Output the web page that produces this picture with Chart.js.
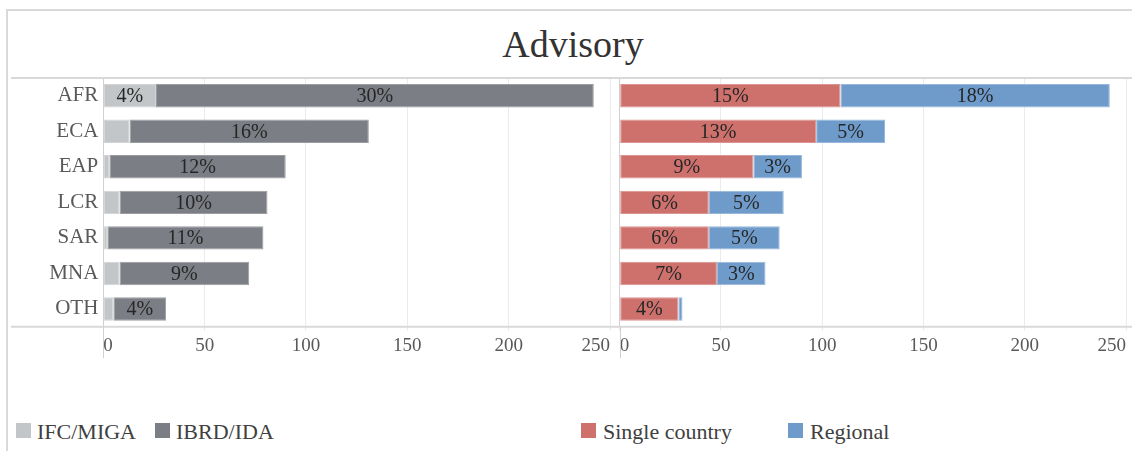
<!DOCTYPE html>
<html>
<head>
<meta charset="utf-8">
<script src="https://cdn.jsdelivr.net/npm/chart.js@4/dist/chart.umd.min.js"></script>
<style>
html,body{margin:0;padding:0;background:#fff;}
#wrap{position:relative;width:1132px;height:451px;overflow:hidden;font-family:"Liberation Serif","Times New Roman",serif;}
.frameL{position:absolute;left:6px;top:9px;width:2px;height:442px;background:#d9d9d9;}
.frameT{position:absolute;left:6px;top:9px;width:1126px;height:2px;background:#d9d9d9;}
#title{position:absolute;left:0;width:1146px;top:25px;text-align:center;font-size:38px;line-height:38px;color:#333;}
canvas{position:absolute;top:0;}
#c1{left:0;}
#c2{left:614px;}
.bx{position:absolute;top:423px;width:15px;height:15px;}
.lt{position:absolute;top:421px;font-size:22px;line-height:22px;color:#404040;white-space:nowrap;}
</style>
</head>
<body>
<div id="wrap">
  <div class="frameT"></div>
  <div class="frameL"></div>
  <div id="title">Advisory</div>
  <canvas id="c1" width="614" height="400" style="width:614px;height:400px"></canvas>
  <canvas id="c2" width="518" height="400" style="width:518px;height:400px"></canvas>
  <div id="legend"></div>
</div>
<script>
// ---- data ----
const categories = ['AFR', 'ECA', 'EAP', 'LCR', 'SAR', 'MNA', 'OTH'];
const ifcMiga = [26, 13, 3, 8, 2, 8, 5];
const ibrdIda = [216, 118, 87, 73, 77, 64, 26];
const singleCountry = [109, 97, 66, 44, 44, 48, 29];
const regional = [133, 34, 24, 37, 35, 24, 2];
const ifcMigaLabels = ['4%', '', '', '', '', '', ''];
const ibrdIdaLabels = ['30%', '16%', '12%', '10%', '11%', '9%', '4%'];
const singleCountryLabels = ['15%', '13%', '9%', '6%', '6%', '7%', '4%'];
const regionalLabels = ['18%', '5%', '3%', '5%', '5%', '3%', ''];
const xTicks = [0, 50, 100, 150, 200, 250];

const FONT = '"Liberation Serif", "Times New Roman", serif';
const colors = {
  ifc: '#C3C6C8', ibrd: '#7C7E85', single: '#CE716D', regional: '#6F9BCB'
};
const borders = {
  ifc: '#D2D4D5', ibrd: '#9A9CA1', single: '#DB948F', regional: '#97B6DB'
};

const labelPlugin = {
  id: 'segLabels',
  afterDatasetsDraw(chart) {
    const ctx = chart.ctx;
    ctx.save();
    ctx.font = '20px ' + FONT;
    ctx.fillStyle = '#262626';
    ctx.textAlign = 'center';
    ctx.textBaseline = 'middle';
    chart.data.datasets.forEach((ds, i) => {
      const meta = chart.getDatasetMeta(i);
      meta.data.forEach((bar, j) => {
        const t = ds.segLabels[j];
        if (!t) return;
        const p = bar.getProps(['x', 'base', 'y'], true);
        ctx.fillText(t, (p.x + p.base) / 2, p.y + 1);
      });
    });
    ctx.restore();
  }
};

function framePlugin(xStart) {
  return {
    id: 'frameLines',
    afterDraw(chart) {
      const ctx = chart.ctx;
      const a = chart.chartArea;
      ctx.save();
      ctx.strokeStyle = '#d9d9d9';
      ctx.lineWidth = 2;
      ctx.beginPath();
      ctx.moveTo(xStart, a.top); ctx.lineTo(chart.width, a.top);
      ctx.moveTo(xStart, a.bottom); ctx.lineTo(chart.width, a.bottom);
      ctx.stroke();
      ctx.strokeStyle = '#d0d0d0';
      ctx.lineWidth = 1;
      ctx.beginPath();
      ctx.moveTo(Math.round(a.left) + 0.5, a.bottom);
      ctx.lineTo(Math.round(a.left) + 0.5, 358);
      ctx.stroke();
      ctx.restore();
    }
  };
}

function makeOptions(yWidth, showCats, padRight) {
  return {
    indexAxis: 'y',
    responsive: false,
    animation: false,
    devicePixelRatio: 1,
    layout: { padding: { top: 78, right: padRight, left: 0, bottom: 0 } },
    plugins: { legend: { display: false }, tooltip: { enabled: false }, title: { display: false } },
    scales: {
      x: {
        stacked: true,
        min: 0, max: 250,
        afterBuildTicks(s) { s.ticks = xTicks.map(v => ({ value: v })); },
        afterFit(s) { s.height = 400 - 326.7; },
        grid: { color: '#ebebeb', lineWidth: 1, drawTicks: true, tickLength: 4 },
        border: { display: false },
        ticks: { font: { family: FONT, size: 19 }, color: '#595959', padding: 4, align: 'inner', maxRotation: 0 }
      },
      y: {
        stacked: true,
        afterFit(s) { s.width = yWidth; },
        grid: { display: false, drawTicks: false },
        border: { display: true, color: '#d0d0d0', width: 1 },
        ticks: { display: showCats, font: { family: FONT, size: 21 }, color: '#595959', padding: 5 }
      }
    }
  };
}

const barCommon = { barPercentage: 0.66, categoryPercentage: 1.0, borderWidth: 1, borderSkipped: false };

new Chart(document.getElementById('c1'), {
  type: 'bar',
  data: {
    labels: categories,
    datasets: [
      Object.assign({ label: 'IFC/MIGA', data: ifcMiga, backgroundColor: colors.ifc, borderColor: borders.ifc, segLabels: ifcMigaLabels }, barCommon),
      Object.assign({ label: 'IBRD/IDA', data: ibrdIda, backgroundColor: colors.ibrd, borderColor: borders.ibrd, segLabels: ibrdIdaLabels }, barCommon)
    ]
  },
  options: makeOptions(103.3, true, 4),
  plugins: [labelPlugin, framePlugin(11)]
});

new Chart(document.getElementById('c2'), {
  type: 'bar',
  data: {
    labels: categories,
    datasets: [
      Object.assign({ label: 'Single country', data: singleCountry, backgroundColor: colors.single, borderColor: borders.single, segLabels: singleCountryLabels }, barCommon),
      Object.assign({ label: 'Regional', data: regional, backgroundColor: colors.regional, borderColor: borders.regional, segLabels: regionalLabels }, barCommon)
    ]
  },
  options: makeOptions(5.7, false, 6),
  plugins: [labelPlugin, framePlugin(0)]
});

// ---- legend (HTML text) ----
const legendItems = [
  { text: 'IFC/MIGA', color: colors.ifc, box: 16, txt: 37 },
  { text: 'IBRD/IDA', color: colors.ibrd, box: 155, txt: 176 },
  { text: 'Single country', color: colors.single, box: 581, txt: 603 },
  { text: 'Regional', color: colors.regional, box: 788, txt: 810 }
];
const lg = document.getElementById('legend');
legendItems.forEach(it => {
  const b = document.createElement('div');
  b.className = 'bx'; b.style.left = it.box + 'px'; b.style.background = it.color;
  const t = document.createElement('div');
  t.className = 'lt'; t.style.left = it.txt + 'px'; t.textContent = it.text;
  lg.appendChild(b); lg.appendChild(t);
});
</script>
</body>
</html>
